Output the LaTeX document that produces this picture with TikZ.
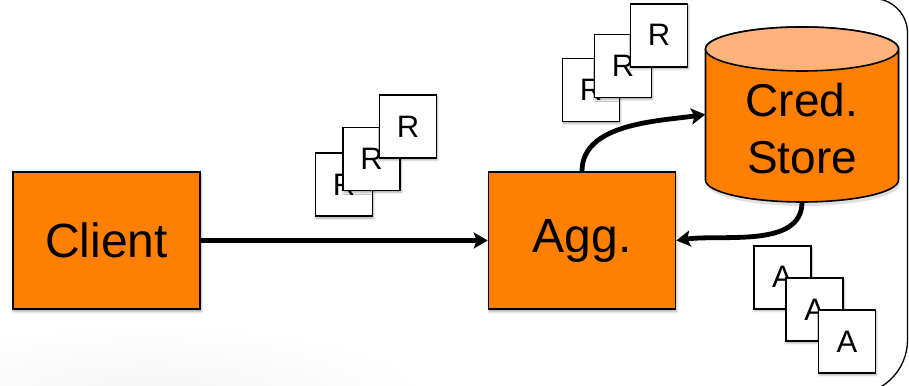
\documentclass[tikz,border=0pt]{standalone}
\usepackage{fontspec}
\setmainfont{Liberation Sans}
\usetikzlibrary{arrows.meta,shadows.blur}
\definecolor{boxorange}{HTML}{FF7F00}
\definecolor{toporange}{HTML}{FFB27C}
\tikzset{
  mainbox/.style={draw=black, line width=1.6pt, fill=boxorange, minimum width=187pt, minimum height=137pt,
    inner sep=0pt, font=\fontsize{48}{55}\selectfont,
    blur shadow={shadow xshift=1pt, shadow yshift=-2.5pt, shadow blur radius=2.5pt, shadow opacity=35}},
  paper/.style={draw=black, line width=1.5pt, fill=white, minimum width=57pt, minimum height=63pt,
    inner sep=0pt, font=\fontsize{31}{36}\selectfont,
    blur shadow={shadow xshift=1pt, shadow yshift=-2pt, shadow blur radius=2pt, shadow opacity=35}},
  flow/.style={line width=4.8pt, -{Stealth[length=14pt,width=16pt,inset=3pt]}},
  frame/.style={line width=1.3pt}
}
\begin{document}
\begin{tikzpicture}[x=1pt,y=1pt]
\useasboundingbox (0,0) rectangle (909,385);
% faint background shading
\begin{scope}
\clip (0,0) rectangle (909,385);
\shade[inner color=black!4, outer color=white] (150,-10) ellipse (280 and 70);
% frame arc on the right
\draw[frame] (840,386.5) -- (873,386.5) arc (90:0:34.5) -- (907.5,45) arc (0:-90:54.5) -- (840,-9.5);
\end{scope}

% main boxes
\node[mainbox] (client) at (106.5,144.5) {Client};
\node[mainbox] (agg) at (582,144.5) {Agg.};

% credential store cylinder
\node[minimum width=193pt, minimum height=175pt, inner sep=0pt] (store) at (802,270.5) {};
\fill[black!35, opacity=0.35] (707,338) -- (707,201) arc (180:360:96.5 and 22) -- (900,338) -- cycle;
\draw[line width=1.6pt, fill=boxorange] (705.5,336) -- (705.5,205) arc (180:360:96.5 and 22) -- (898.5,336) arc (0:180:96.5 and 22) -- cycle;
\draw[line width=1.6pt, fill=toporange] (802,336) ellipse (96.5 and 22);
\node[font=\fontsize{46}{57}\selectfont, align=center, inner sep=0pt] (storetext) at (802,256.5) {Cred.\\Store};

% connectors
\draw[flow] (client.east) -- (agg.west);
\draw[flow] (agg.north) to[out=90, in=188, looseness=0.9] (store.west);
\draw[flow] (store.south) to[out=-90, in=8, looseness=0.9] (agg.east);

% R papers, group 1
\node[paper] (r1a) at (344,200.3) {R};
\node[paper] (r1b) at (371.5,226.1) {R};
\node[paper] (r1c) at (408,258.5) {R};

% R papers, group 2
\node[paper] (r2a) at (591,295) {R};
\node[paper] (r2b) at (623,319) {R};
\node[paper] (r2c) at (659,349.7) {R};

% A papers
\node[paper] (a1) at (782.5,107.7) {A};
\node[paper] (a2) at (814.7,75.5) {A};
\node[paper] (a3) at (847,43.5) {A};
\end{tikzpicture}
\end{document}
